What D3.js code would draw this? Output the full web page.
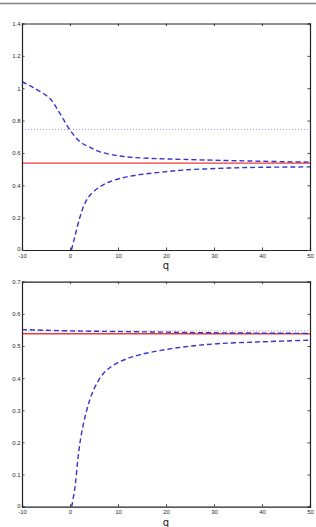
<!DOCTYPE html>
<html>
<head>
<meta charset="utf-8">
<script src="https://cdn.jsdelivr.net/npm/d3@7"></script>
<style>
  body { margin: 0; background: #fff; }
  svg { display: block; font-family: "DejaVu Sans", sans-serif; }
</style>
</head>
<body>
<script>
// data
const xTicks = [-10, 0, 10, 20, 30, 40, 50];

// top panel
const topTicks = [0, 0.2, 0.4, 0.6, 0.8, 1, 1.2, 1.4];
const topRed = 0.537;
const topDotted = 0.745;
const topUpperQ = [-10, -7.6, -4.2, -2.1, 0, 2.1, 4.2, 6.25, 9.7, 13.2, 18.75, 23.5, 30, 37.5, 50];
const topUpperV = [1.04, 1.004, 0.936, 0.844, 0.741, 0.669, 0.634, 0.607, 0.584, 0.572, 0.564, 0.56, 0.555, 0.55, 0.543];
const topLowerQ = [0.3, 1, 2.1, 3.1, 4.2, 6.25, 8.3, 11.8, 15.3, 18.75, 23.5, 30.6, 37.5, 50];
const topLowerV = [0, 0.082, 0.206, 0.288, 0.34, 0.391, 0.422, 0.452, 0.469, 0.48, 0.494, 0.504, 0.51, 0.514];

// bottom panel
const botTicks = [0, 0.1, 0.2, 0.3, 0.4, 0.5, 0.6, 0.7];
const botRed = 0.538;
const botDotted = 0.547;
const botUpperQ = [-10, 0, 10, 20, 30, 40, 50];
const botUpperV = [0.551, 0.547, 0.545, 0.543, 0.541, 0.54, 0.539];
const botLowerQ = [0.35, 1.05, 1.7, 2.4, 3.5, 4.9, 7, 9.7, 13.2, 16.7, 23.6, 30.6, 40, 50];
const botLowerV = [0, 0.062, 0.156, 0.228, 0.301, 0.363, 0.415, 0.446, 0.467, 0.48, 0.497, 0.507, 0.513, 0.518];

const W = 316, H = 527;
const svg = d3.select("body").append("svg").attr("width", W).attr("height", H);

// gray rule at the very top
svg.append("line").attr("x1", 0).attr("x2", W).attr("y1", 3.5).attr("y2", 3.5)
  .attr("stroke", "#808080").attr("stroke-width", 1.5);

function panel(top, bottom, yMax, yTicks, red, dotted, upQ, upV, loQ, loV) {
  const x = d3.scaleLinear().domain([-10, 50]).range([22, 310]);
  const y = d3.scaleLinear().domain([0, yMax]).range([bottom, top]);
  const g = svg.append("g");

  const line = d3.line().x(d => x(d[0])).y(d => y(d[1])).curve(d3.curveCatmullRom.alpha(0.5));

  // dotted level
  g.append("line").attr("x1", x(-10)).attr("x2", x(50))
    .attr("y1", y(dotted)).attr("y2", y(dotted))
    .attr("stroke", "#9a9aee").attr("stroke-width", 1).attr("stroke-dasharray", "1,2");

  // red level
  g.append("line").attr("x1", x(-10)).attr("x2", x(50))
    .attr("y1", y(red)).attr("y2", y(red))
    .attr("stroke", "#f03a3a").attr("stroke-width", 1.3);

  [[upQ, upV], [loQ, loV]].forEach(s => {
    g.append("path")
      .datum(s[0].map((q, i) => [q, s[1][i]]))
      .attr("d", line)
      .attr("fill", "none")
      .attr("stroke", "#3535c8")
      .attr("stroke-width", 1.4)
      .attr("stroke-dasharray", "5,3");
  });

  // axes, ticks inside on all four sides
  const fmt = d => String(+d.toFixed(2));
  g.append("g").attr("transform", `translate(0,${bottom})`)
    .call(d3.axisBottom(x).tickValues(xTicks).tickSize(-2.5).tickPadding(3.5).tickFormat(fmt));
  g.append("g").attr("transform", `translate(0,${top})`)
    .call(d3.axisTop(x).tickValues(xTicks).tickSize(-2.5).tickFormat(""));
  g.append("g").attr("transform", `translate(22,0)`)
    .call(d3.axisLeft(y).tickValues(yTicks).tickSize(-2.5).tickPadding(1.5).tickFormat(fmt));
  g.append("g").attr("transform", `translate(310,0)`)
    .call(d3.axisRight(y).tickValues(yTicks).tickSize(-2.5).tickFormat(""));

  g.selectAll(".domain").attr("stroke", "#222").attr("stroke-width", 1.2);
  g.selectAll(".tick line").attr("stroke", "#444");
  g.selectAll(".tick text").attr("font-size", 6).attr("fill", "#2a2a2a");
  // lift the y "0" label clear of the x "-10" label
  g.selectAll(".tick text").filter(function(d) {
    return d === 0 && this.getAttribute("x") !== null && +this.getAttribute("x") < 0;
  }).attr("dy", "0.1em");

  g.append("text").attr("x", x(20)).attr("y", bottom + 19)
    .attr("text-anchor", "middle").attr("font-size", 10).attr("fill", "#222")
    .text("q");
}

panel(23.5, 250, 1.4, topTicks, topRed, topDotted, topUpperQ, topUpperV, topLowerQ, topLowerV);
panel(281.7, 506.7, 0.7, botTicks, botRed, botDotted, botUpperQ, botUpperV, botLowerQ, botLowerV);
</script>
</body>
</html>
